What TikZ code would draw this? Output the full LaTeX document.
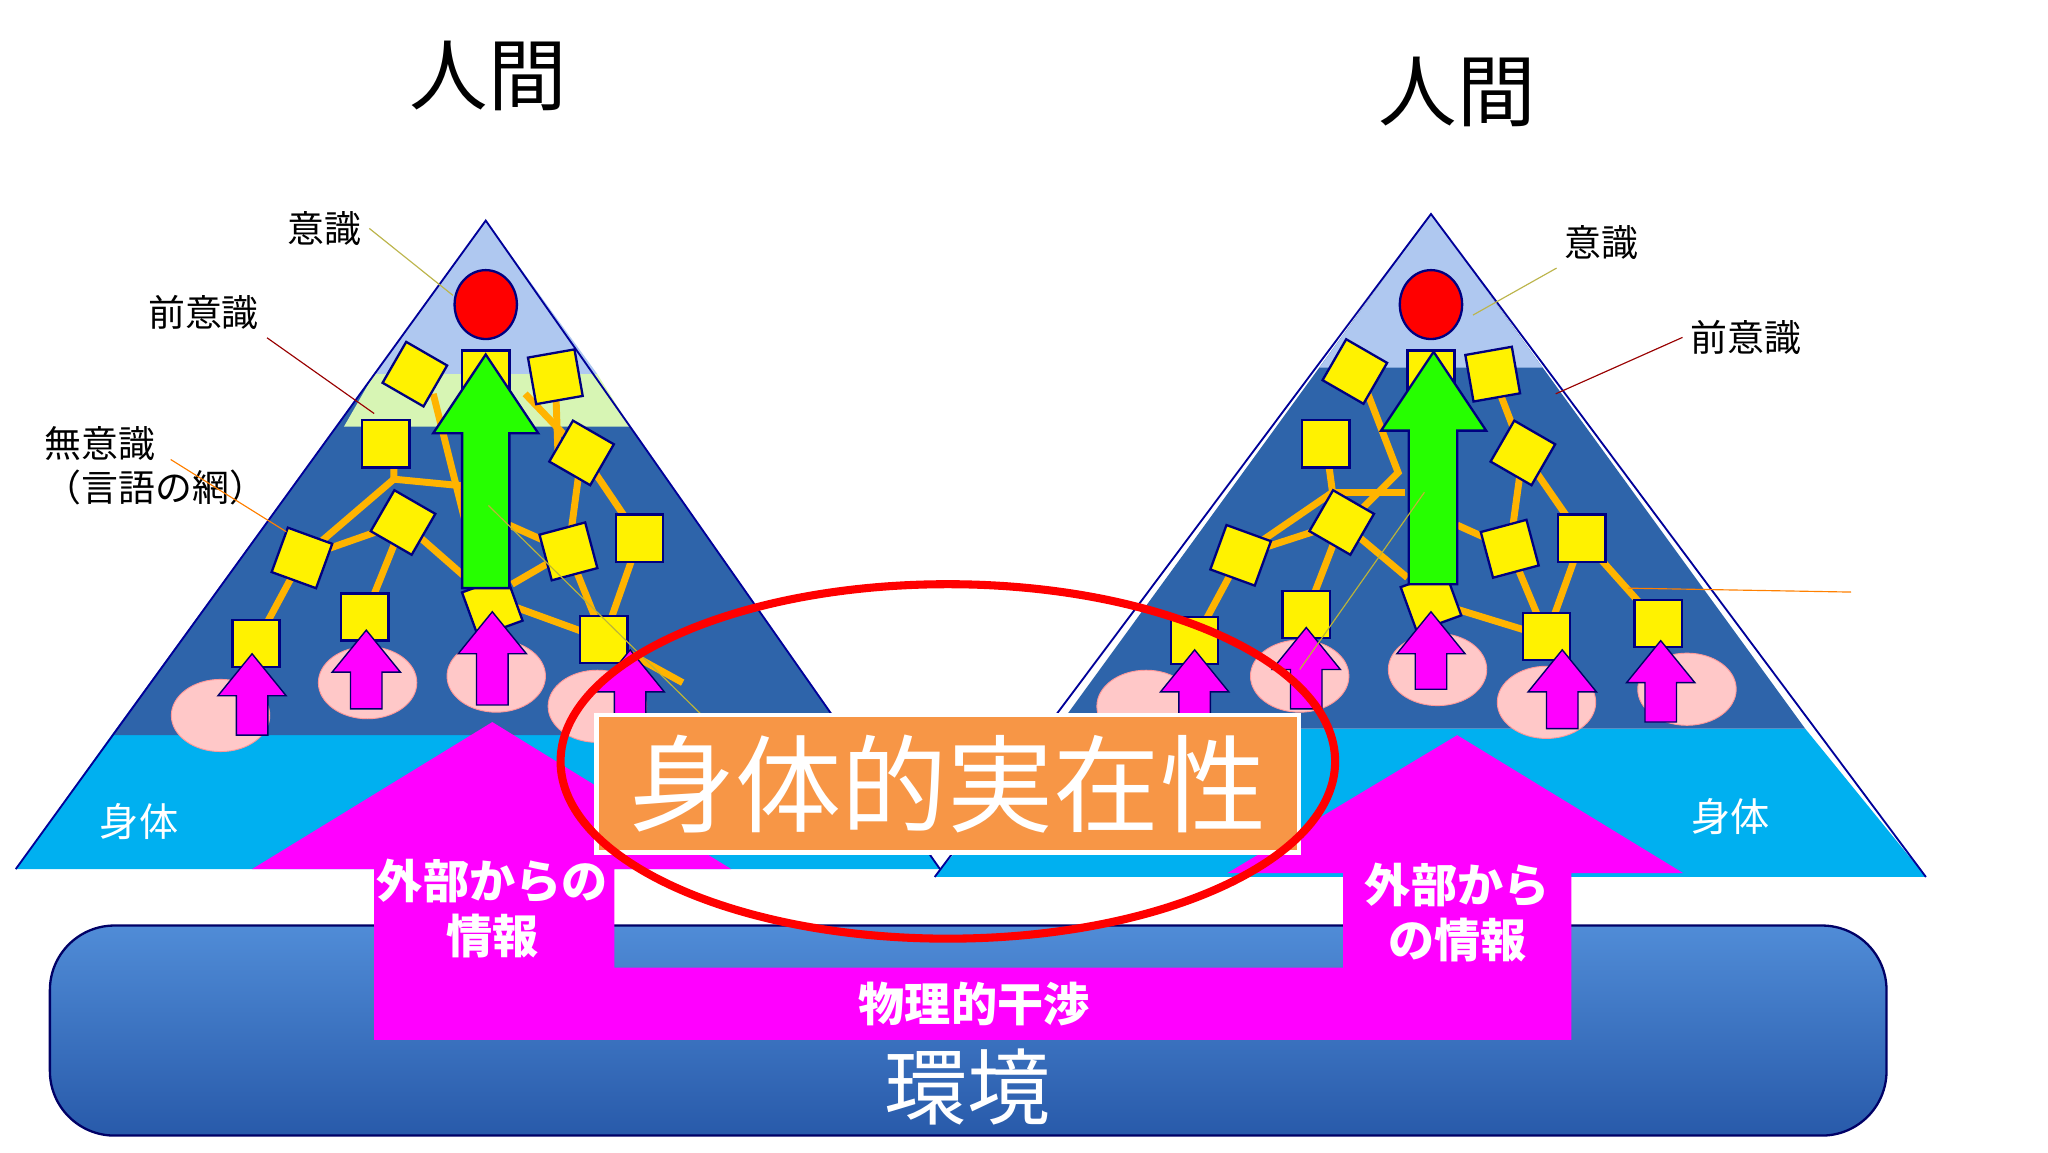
\documentclass[tikz,border=0pt]{standalone}
\usepackage{fontspec}
\newfontfamily\cjk{Noto Sans CJK JP}
\usetikzlibrary{shapes.geometric}
\definecolor{dkblue}{RGB}{46,100,170}
\definecolor{ltblue}{RGB}{0,176,240}
\definecolor{topblue}{RGB}{175,200,240}
\definecolor{ltgreen}{RGB}{215,245,180}
\definecolor{mag}{RGB}{255,0,255}
\definecolor{orng}{RGB}{247,150,70}
\definecolor{web}{RGB}{255,180,0}
\definecolor{pinkc}{RGB}{255,200,200}
\definecolor{envtop}{RGB}{80,140,215}
\definecolor{envbot}{RGB}{40,90,170}
\tikzset{
 sqbox/.style={fill=yellow,draw=blue!50!black,line width=1pt,minimum size=0.72cm,inner sep=0pt},
 webl/.style={web,line width=3pt},
 pinkel/.style={ellipse,fill=pinkc,draw=red!40,minimum width=1.5cm,minimum height=1.1cm},
 lbl/.style={font=\cjk\fontsize{16}{19}\selectfont,align=left},
 lead/.style={line width=0.5pt},
 magtxt/.style={font=\cjk\bfseries\fontsize{20}{24}\selectfont,text=white,align=center},
}
\newcommand\magarr[3]{% x, bottom y, top y
 \fill[mag,draw=blue!40!black,line width=0.6pt] (#1-12,#2) -- (#1-12,#3+32) -- (#1-26,#3+32) -- (#1,#3) -- (#1+26,#3+32) -- (#1+12,#3+32) -- (#1+12,#2) -- cycle;}
\begin{document}
\begin{tikzpicture}[x=0.02cm,y=-0.02cm]
\useasboundingbox (0,0) rectangle (1560,878);
\fill[white] (0,0) rectangle (1560,878);
% environment bar
\draw[rounded corners=28pt,draw=blue!40!black,line width=1pt,top color=envtop,bottom color=envbot] (38,705) rectangle (1437,865);
% ---------- left pyramid
\fill[ltblue] (12,662) -- (85,560) -- (645,560) -- (716,662) -- cycle;
\fill[dkblue] (85,560) -- (370,168) -- (645,560) -- cycle;
\fill[topblue] (370,168) -- (285,285) -- (455,285) -- cycle;
\fill[ltgreen] (285,285) -- (262,325) -- (480,325) -- (455,285) -- cycle;
\draw[blue!60!black,line width=0.8pt] (12,662) -- (370,168) -- (716,662);
% web left
\draw[webl] (300,338) -- (300,365) -- (372,372);
\draw[webl] (230,425) -- (300,365);
\draw[webl] (230,425) -- (307,398);
\draw[webl] (195,490) -- (230,425);
\draw[webl] (278,470) -- (307,398) -- (372,455);
\draw[webl] (330,300) -- (355,400);
\draw[webl] (400,300) -- (443,345) -- (433,420);
\draw[webl] (423,287) -- (425,345);
\draw[webl] (443,345) -- (487,410) -- (460,487) -- (433,420) -- (390,445);
\draw[webl] (388,400) -- (433,420);
\draw[webl] (372,455) -- (460,487) -- (520,520);
\node[sqbox,rotate=-30] (l1) at (316,285) {};
\node[sqbox,rotate=10] (l3) at (423,287) {};
\node[sqbox] (l4) at (294,338) {};
\node[sqbox,rotate=-30] (l5) at (443,345) {};
\node[sqbox,rotate=-30] (l6) at (307,398) {};
\node[sqbox,rotate=-20] (l7) at (230,425) {};
\node[sqbox,rotate=15] (l8) at (433,420) {};
\node[sqbox] (l9) at (487,410) {};
\node[sqbox] (l10) at (278,470) {};
\node[sqbox] (l11) at (195,490) {};
\node[sqbox,rotate=20] (l12) at (375,462) {};
\node[sqbox] (l13) at (460,487) {};
\node[sqbox] (l2) at (370,285) {};
\node[ellipse,fill=red,draw=blue!50!black,line width=1pt,minimum width=0.95cm,minimum height=1.05cm] (lc) at (370,232) {};
\fill[green!80!lime,draw=blue!50!black,line width=1pt] (352,448) -- (352,330) -- (330,330) -- (370,270) -- (410,330) -- (388,330) -- (388,448) -- cycle;
\node[pinkel] (le1) at (168,545) {};
\node[pinkel] (le2) at (280,520) {};
\node[pinkel] (le3) at (378,515) {};
\node[pinkel] (le4) at (455,538) {};
\magarr{192}{560}{498}
\magarr{279}{540}{480}
\magarr{375}{537}{466}
\magarr{480}{560}{495}
% ---------- right pyramid
\fill[ltblue] (712,668) -- (805,555) -- (1375,555) -- (1467,668) -- cycle;
\fill[dkblue] (805,555) -- (1090,163) -- (1375,555) -- cycle;
\fill[topblue] (1090,163) -- (1005,280) -- (1175,280) -- cycle;
\draw[blue!60!black,line width=0.8pt] (712,668) -- (1090,163) -- (1467,668);
\draw[webl] (1010,338) -- (1015,375) -- (945,423);
\draw[webl] (1015,375) -- (1070,375);
\draw[webl] (945,423) -- (1022,398) -- (995,468);
\draw[webl] (910,488) -- (945,423);
\draw[webl] (1040,295) -- (1065,360) -- (1035,390);
\draw[webl] (1022,398) -- (1072,440);
\draw[webl] (1137,285) -- (1160,345) -- (1150,418);
\draw[webl] (1160,345) -- (1205,410) -- (1263,475);
\draw[webl] (1205,410) -- (1178,485) -- (1150,418);
\draw[webl] (1090,458) -- (1178,485);
\draw[webl] (1110,400) -- (1150,418);
\node[sqbox,rotate=-30] (r1) at (1032,283) {};
\node[sqbox,rotate=10] (r3) at (1137,285) {};
\node[sqbox] (r4) at (1010,338) {};
\node[sqbox,rotate=-30] (r5) at (1160,345) {};
\node[sqbox,rotate=-30] (r6) at (1022,398) {};
\node[sqbox,rotate=-20] (r7) at (945,423) {};
\node[sqbox,rotate=15] (r8) at (1150,418) {};
\node[sqbox] (r9) at (1205,410) {};
\node[sqbox] (r10) at (995,468) {};
\node[sqbox] (r11) at (910,488) {};
\node[sqbox,rotate=20] (r12) at (1090,458) {};
\node[sqbox] (r13) at (1178,485) {};
\node[sqbox] (r14) at (1263,475) {};
\node[sqbox] (r2) at (1090,285) {};
\node[ellipse,fill=red,draw=blue!50!black,line width=1pt,minimum width=0.95cm,minimum height=1.05cm] (rc) at (1090,232) {};
\fill[green!80!lime,draw=blue!50!black,line width=1pt] (1073,445) -- (1073,328) -- (1052,328) -- (1092,268) -- (1132,328) -- (1110,328) -- (1110,445) -- cycle;
\node[pinkel] (re1) at (873,538) {};
\node[pinkel] (re2) at (990,515) {};
\node[pinkel] (re3) at (1095,510) {};
\node[pinkel] (re4) at (1178,535) {};
\node[pinkel] (re5) at (1285,525) {};
\magarr{910}{550}{495}
\magarr{995}{540}{478}
\magarr{1090}{525}{466}
\magarr{1190}{555}{495}
\magarr{1265}{550}{488}
% ---------- magenta structure
\fill[mag] (285,792) -- (285,662) -- (192,662) -- (375,550) -- (557,662) -- (468,662) -- (468,737) -- (1023,737) -- (1023,665) -- (935,665) -- (1110,560) -- (1282,665) -- (1197,665) -- (1197,792) -- cycle;
\node[magtxt] (t1) at (375,692) {外部からの\\情報};
\node[magtxt] (t2) at (1110,695) {外部から\\の情報};
\node[magtxt] (t3) at (742,765) {物理的干渉};
\node[font=\cjk\fontsize{36}{40}\selectfont,text=white] (env) at (737,828) {環境};
% leaders inside
\draw[lead,yellow!70!black] (372,385) -- (535,545);
\draw[lead,yellow!70!black] (1085,375) -- (990,510);
% orange box
\node[fill=orng,draw=white,line width=2pt,minimum width=10.7cm,minimum height=2.1cm,font=\cjk\fontsize{46}{50}\selectfont,text=white] (jb) at (722,597) {身体的実在性};
\draw[red,line width=3.5pt] (722,580) ellipse (295 and 135);
% body labels
\node[font=\cjk\fontsize{17}{20}\selectfont,text=white] (b1) at (106,626) {身体};
\node[font=\cjk\fontsize{17}{20}\selectfont,text=white] (b2) at (1318,622) {身体};
% titles
\node[font=\cjk\fontsize{34}{38}\selectfont] (h1) at (372,58) {人間};
\node[font=\cjk\fontsize{34}{38}\selectfont] (h2) at (1110,70) {人間};
% labels and leaders
\node[lbl] (a1) at (247,174) {意識};
\node[lbl] (a2) at (155,238) {前意識};
\node[lbl,anchor=west] (a3) at (28,355) {無意識\\（言語の網）};
\node[lbl] (a4) at (1220,185) {意識};
\node[lbl] (a5) at (1330,257) {前意識};
\coordinate (c1) at (345,225); \coordinate (c2) at (285,315); \coordinate (c3) at (218,405);
\coordinate (c4) at (1122,240); \coordinate (c5) at (1185,300);
\coordinate (c6a) at (1240,448); \coordinate (c6b) at (1410,451);
\draw[lead,olive!60] (a1.east) -- (c1);
\draw[lead,red!60!black] (a2.south east) -- (c2);
\draw[lead,orange] (130,350) -- (c3);
\draw[lead,olive!60] (a4.south west) -- (c4);
\draw[lead,red!60!black] (a5.west) -- (c5);
\draw[lead,orange] (c6a) -- (c6b);
\end{tikzpicture}
\end{document}
